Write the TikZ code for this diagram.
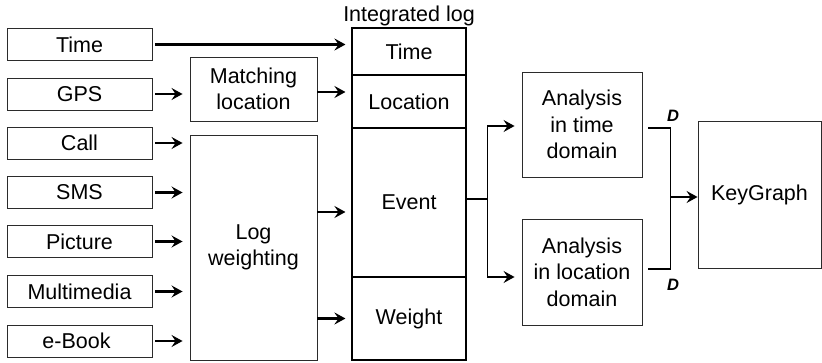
\documentclass[tikz,border=0pt]{standalone}
\usepackage{fontspec}
\setmainfont{Liberation Sans}
\usetikzlibrary{arrows.meta}
\definecolor{boxline}{HTML}{2B2B2B}
\definecolor{inkblack}{HTML}{000000}

\begin{document}
\begin{tikzpicture}[x=1pt,y=-1pt,
    every node/.style={font=\fontsize{21.5}{26.5}\selectfont,align=center,text=inkblack},
    srcbox/.style={draw=boxline,line width=0.9pt,minimum width=145pt,minimum height=32pt,inner sep=0pt},
    procbox/.style={draw=boxline,line width=0.9pt,inner sep=0pt},
    cell/.style={draw=inkblack,line width=1.1pt,minimum width=114pt,inner sep=0pt},
    dlabel/.style={font=\fontsize{16.5}{18}\selectfont\bfseries\itshape},
    arr/.style={draw=inkblack,line width=2.6pt,-{Stealth[length=11pt,width=12pt,inset=4pt]}},
    farr/.style={draw=inkblack,line width=1.4pt,-{Stealth[length=11pt,width=12pt,inset=4pt]}},
    jline/.style={draw=inkblack,line width=1.9pt}]
    \useasboundingbox (0,0) rectangle (822,363);

    % sources
    \foreach \y/\name/\txt in {
      44.5/srctime/Time, 94/srcgps/GPS, 143/srccall/Call, 192.5/srcsms/SMS,
      241.5/srcpic/Picture, 291.5/srcmm/Multimedia, 341/srcbook/e-Book
    } {
      \node[srcbox] (\name) at (79.5,\y) {\txt};
    }

    % preprocessing
    \node[procbox,minimum width=127pt,minimum height=64pt] (match) at (253.5,89) {Matching\\location};
    \node[procbox,minimum width=127pt,minimum height=225pt] (logw) at (253.5,247.5) {Log\\weighting};

    % integrated log
    \node[cell,minimum height=47pt] (tcell) at (409,51.5) {Time};
    \node[cell,minimum height=53pt] (lcell) at (409,101.5) {Location};
    \node[cell,minimum height=149pt] (ecell) at (409,202.5) {Event};
    \node[cell,minimum height=83pt] (wcell) at (409,318.5) {Weight};
    \node[anchor=south,inner sep=1pt] (intlog) at (tcell.north) {Integrated log};

    % analysis
    \node[procbox,minimum width=120pt,minimum height=105pt] (atime) at (582,124.5) {Analysis\\in time\\domain};
    \node[procbox,minimum width=120pt,minimum height=106pt] (aloc) at (582,272) {Analysis\\in location\\domain};
    \node[procbox,minimum width=123pt,minimum height=147pt] (kg) at (759.5,194.5) {KeyGraph};

    % arrows into the log
    \draw[arr,shorten <=3pt,shorten >=6pt] (srctime.east) -- (srctime.east -| tcell.west);
    \draw[arr,shorten <=3pt,shorten >=7pt] (srcgps.east) -- (srcgps.east -| match.west);
    \foreach \name in {srccall,srcsms,srcpic,srcmm,srcbook}
      \draw[arr,shorten <=3pt,shorten >=7pt] (\name.east) -- (\name.east -| logw.west);
    \coordinate (locin) at ([yshift=-3pt]match.east);
    \coordinate (evin) at ([yshift=-9.5pt]ecell.west);
    \draw[arr,shorten >=6pt] (locin) -- (locin -| lcell.west);
    \draw[arr,shorten >=6pt] (evin -| logw.east) -- (evin);
    \draw[arr,shorten >=6pt] (wcell.west -| logw.east) -- (wcell.west);

    % event to analysis
    \draw[jline,line width=1.4pt] ([yshift=3.5pt]ecell.east) -- ++(21,0) coordinate (split);
    \draw[farr,shorten >=7pt] (split) |- ([yshift=-1.5pt]atime.west);
    \draw[farr,shorten >=7pt] (split) |- ([yshift=-5pt]aloc.west);

    % analysis to KeyGraph
    \coordinate (jtop) at ([xshift=6pt,yshift=-3.5pt]atime.east);
    \coordinate (jbot) at ([xshift=6pt,yshift=3pt]aloc.east);
    \coordinate (merge) at ([xshift=22pt]jtop);
    \draw[jline] (jtop) -- (merge) |- (jbot);
    \draw[arr] ([yshift=-2.5pt]merge |- kg.west) -- ([yshift=-2.5pt]kg.west);
    \node[dlabel] (dtop) at ([shift={(2.5,-12)}]merge) {D};
    \node[dlabel] (dbot) at ([shift={(2.5,16)}]merge |- jbot) {D};
  \end{tikzpicture}
\end{document}
